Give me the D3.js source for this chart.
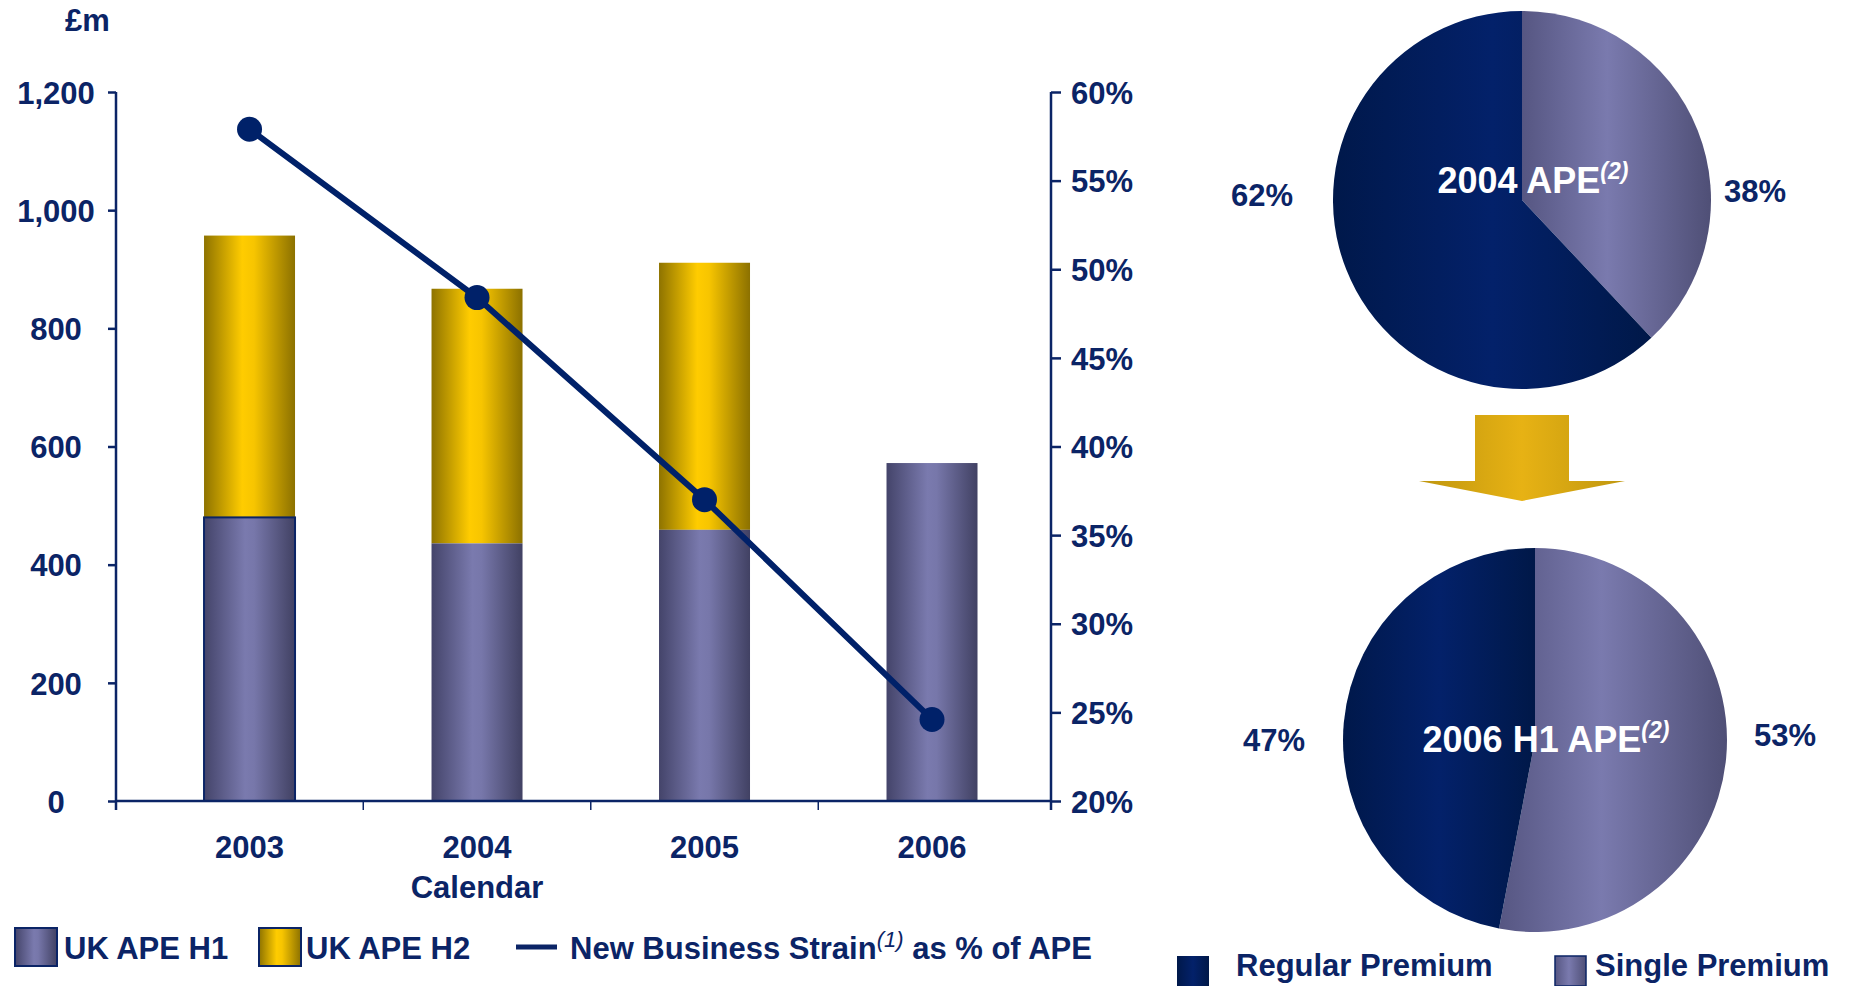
<!DOCTYPE html>
<html>
<head>
<meta charset="utf-8">
<script src="https://cdn.jsdelivr.net/npm/d3@7"></script>
<style>
  body { margin: 0; background: #ffffff; }
  svg { display: block; font-family: "Liberation Sans", Arial, sans-serif; font-weight: bold; }
</style>
</head>
<body>
<svg id="chart" width="1850" height="986"></svg>
<script>
// ---- data ----
const categories = ["2003", "2004", "2005", "2006"];
const apeH1 = [480, 436, 459, 572];          // £m, first half
const apeH2 = [477, 431, 452, 0];            // £m, second half (2006 not yet reported)
const strainPct = [57.9, 48.4, 37.0, 24.6];  // new business strain as % of APE
const leftTicks = [0, 200, 400, 600, 800, 1000, 1200];
const rightTicks = [20, 25, 30, 35, 40, 45, 50, 55, 60];
const pieTitles = ["2004 APE", "2006 H1 APE"];
const singlePremium = [38, 53];
const regularPremium = [62, 47];

// ---- setup ----
const NAVY = "#0b2466";
const FS = 31;
const svg = d3.select("#chart");
const defs = svg.append("defs");

function hGradient(id, stops) {
  const g = defs.append("linearGradient").attr("id", id)
    .attr("x1", "0%").attr("x2", "100%").attr("y1", "0%").attr("y2", "0%");
  stops.forEach(([o, c]) => g.append("stop").attr("offset", o).attr("stop-color", c));
}
hGradient("gH1", [["0%", "#44446a"], ["45%", "#7a7aae"], ["55%", "#7777aa"], ["100%", "#414163"]]);
hGradient("gH2", [["0%", "#8e7300"], ["42%", "#ffcc00"], ["55%", "#f7c500"], ["100%", "#8c7100"]]);
hGradient("gReg", [["0%", "#00184a"], ["50%", "#03216a"], ["100%", "#001848"]]);
hGradient("gSgl", [["0%", "#565682"], ["45%", "#7a7aae"], ["100%", "#4f4f76"]]);
hGradient("gArrow", [["0%", "#bf960e"], ["50%", "#e7b214"], ["100%", "#c0970f"]]);

// ---- combo chart ----
const plot = { left: 116, right: 1051, top: 92, bottom: 801 };

const x = d3.scaleBand().domain(categories)
  .range([plot.left, plot.right]).paddingInner(0.6).paddingOuter(0.355).align(0.545);
const yL = d3.scaleLinear().domain([0, 1200]).range([plot.bottom, plot.top]);
const yR = d3.scaleLinear().domain([20, 60]).range([plot.bottom, plot.top]);
const cx = c => x(c) + x.bandwidth() / 2;

const rows = categories.map((c, i) => ({ c, h1: apeH1[i], h2: apeH2[i], pct: strainPct[i] }));

// stacked bars
const bars = svg.append("g");
bars.selectAll("rect.h2").data(rows.filter(d => d.h2 > 0)).join("rect")
  .attr("class", "h2")
  .attr("x", d => x(d.c)).attr("width", x.bandwidth())
  .attr("y", d => yL(d.h1 + d.h2)).attr("height", d => yL(d.h1) - yL(d.h1 + d.h2))
  .attr("fill", "url(#gH2)");
bars.selectAll("rect.h1").data(rows).join("rect")
  .attr("class", "h1")
  .attr("x", d => x(d.c)).attr("width", x.bandwidth())
  .attr("y", d => yL(d.h1)).attr("height", d => yL(0) - yL(d.h1))
  .attr("fill", "url(#gH1)")
  .attr("stroke", (d, i) => i === 0 ? NAVY : "none").attr("stroke-width", 2);

function styleTickText(sel) {
  sel.attr("fill", NAVY).attr("font-size", FS)
    .attr("font-family", "Liberation Sans, Arial, sans-serif").attr("font-weight", "bold");
}

// left axis
const axL = svg.append("g").attr("transform", `translate(${plot.left},0)`)
  .call(d3.axisLeft(yL).tickValues(leftTicks).tickSize(8).tickSizeOuter(0).tickFormat(d3.format(",")));
axL.select(".domain").remove();
axL.selectAll(".tick line").attr("stroke", NAVY).attr("stroke-width", 2.5);
axL.selectAll(".tick text").call(styleTickText)
  .attr("text-anchor", "middle").attr("x", -60).attr("dy", "0.36em");
svg.append("line").attr("x1", plot.left).attr("x2", plot.left)
  .attr("y1", plot.top).attr("y2", plot.bottom + 9).attr("stroke", NAVY).attr("stroke-width", 2.5);

// right axis
const axR = svg.append("g").attr("transform", `translate(${plot.right},0)`)
  .call(d3.axisRight(yR).tickValues(rightTicks).tickSize(10).tickSizeOuter(0).tickFormat(d => d + "%"));
axR.select(".domain").remove();
axR.selectAll(".tick line").attr("stroke", NAVY).attr("stroke-width", 2.5);
axR.selectAll(".tick text").call(styleTickText).attr("x", 20).attr("dy", "0.36em");
svg.append("line").attr("x1", plot.right).attr("x2", plot.right)
  .attr("y1", plot.top).attr("y2", plot.bottom + 9).attr("stroke", NAVY).attr("stroke-width", 2.5);

// category axis
svg.append("line").attr("x1", plot.left).attr("x2", plot.right)
  .attr("y1", yL(0)).attr("y2", yL(0)).attr("stroke", NAVY).attr("stroke-width", 2.5);
const step = x.step();
svg.append("g").selectAll("line").data(categories.slice(0, -1)).join("line")
  .attr("x1", d => cx(d) + step / 2).attr("x2", d => cx(d) + step / 2)
  .attr("y1", yL(0)).attr("y2", yL(0) + 9).attr("stroke", NAVY).attr("stroke-width", 1.5);
svg.append("g").selectAll("text").data(categories).join("text")
  .attr("x", d => cx(d)).attr("y", 858)
  .attr("text-anchor", "middle").attr("fill", NAVY).attr("font-size", FS).text(d => d);
svg.append("text").attr("x", cx("2004")).attr("y", 898)
  .attr("text-anchor", "middle").attr("fill", NAVY).attr("font-size", FS).text("Calendar");

svg.append("text").attr("x", 65).attr("y", 31).attr("fill", NAVY).attr("font-size", FS).text("£m");

// strain line
const line = d3.line().x(d => cx(d.c)).y(d => yR(d.pct));
svg.append("path").datum(rows).attr("d", line)
  .attr("fill", "none").attr("stroke", "#002169").attr("stroke-width", 6);
svg.append("g").selectAll("circle").data(rows).join("circle")
  .attr("cx", d => cx(d.c)).attr("cy", d => yR(d.pct))
  .attr("r", 12.5).attr("fill", "#002169");

// left legend
const lg = svg.append("g");
lg.append("rect").attr("x", 15).attr("y", 928).attr("width", 42).attr("height", 38)
  .attr("fill", "url(#gH1)").attr("stroke", NAVY).attr("stroke-width", 2);
lg.append("text").attr("x", 64).attr("y", 959).attr("fill", NAVY).attr("font-size", FS).text("UK APE H1");
lg.append("rect").attr("x", 259).attr("y", 928).attr("width", 42).attr("height", 38)
  .attr("fill", "url(#gH2)").attr("stroke", NAVY).attr("stroke-width", 2);
lg.append("text").attr("x", 306).attr("y", 959).attr("fill", NAVY).attr("font-size", FS).text("UK APE H2");
lg.append("line").attr("x1", 516).attr("x2", 557).attr("y1", 947).attr("y2", 947)
  .attr("stroke", NAVY).attr("stroke-width", 5);
const lt = lg.append("text").attr("x", 570).attr("y", 959).attr("fill", NAVY).attr("font-size", FS);
lt.append("tspan").text("New Business Strain");
lt.append("tspan").attr("font-style", "italic").attr("font-weight", "normal").attr("font-size", 22)
  .attr("dy", -12).text("(1)");
lt.append("tspan").attr("dy", 12).text(" as % of APE");

// ---- pies ----
const pieGen = d3.pie().sort(null).value(d => d.v);
const pies = [
  { cx: 1522, cy: 200, r: 189, i: 0, titleY: 193, leftDx: -260, leftDy: -5, rightDx: 233, rightDy: -9 },
  { cx: 1535, cy: 740, r: 192, i: 1, titleY: 752, leftDx: -261, leftDy: 0, rightDx: 250, rightDy: -5 }
];
pies.forEach(p => {
  const parts = [
    { k: "Single Premium", v: singlePremium[p.i], fill: "url(#gSgl)" },
    { k: "Regular Premium", v: regularPremium[p.i], fill: "url(#gReg)" }
  ];
  const arc = d3.arc().innerRadius(0).outerRadius(p.r);
  const g = svg.append("g").attr("transform", `translate(${p.cx},${p.cy})`);
  const arcs = pieGen(parts);
  g.selectAll("path").data(arcs).join("path").attr("d", arc).attr("fill", d => d.data.fill);
  // percentage labels either side of the pie
  arcs.forEach(a => {
    const right = a.data.k === "Single Premium";
    g.append("text")
      .attr("x", right ? p.rightDx : p.leftDx)
      .attr("y", (right ? p.rightDy : p.leftDy) + 11)
      .attr("text-anchor", "middle").attr("fill", NAVY).attr("font-size", FS)
      .text(d3.format(".0f")(a.data.v) + "%");
  });
  // title inside the pie
  const t = g.append("text").attr("x", 11).attr("y", p.titleY - p.cy)
    .attr("text-anchor", "middle").attr("fill", "#ffffff").attr("font-size", 36);
  t.append("tspan").text(pieTitles[p.i]);
  t.append("tspan").attr("font-style", "italic").attr("font-size", 23).attr("dy", -14).text("(2)");
});

// arrow between the pies
const ax = pies[0].cx, aTop = 415, aNeck = 481, aTip = 501;
svg.append("path")
  .attr("d", `M${ax - 47},${aTop} L${ax + 47},${aTop} L${ax + 47},${aNeck} L${ax + 103},${aNeck}
              L${ax},${aTip} L${ax - 103},${aNeck} L${ax - 47},${aNeck} Z`)
  .attr("fill", "url(#gArrow)");

// right legend
const rg = svg.append("g");
rg.append("rect").attr("x", 1177).attr("y", 956).attr("width", 32).attr("height", 30).attr("fill", "url(#gReg)");
rg.append("text").attr("x", 1236).attr("y", 976).attr("fill", NAVY).attr("font-size", FS).text("Regular Premium");
rg.append("rect").attr("x", 1555).attr("y", 956).attr("width", 31).attr("height", 30)
  .attr("fill", "url(#gSgl)").attr("stroke", NAVY).attr("stroke-width", 1.5);
rg.append("text").attr("x", 1595).attr("y", 976).attr("fill", NAVY).attr("font-size", FS).text("Single Premium");
</script>
</body>
</html>
